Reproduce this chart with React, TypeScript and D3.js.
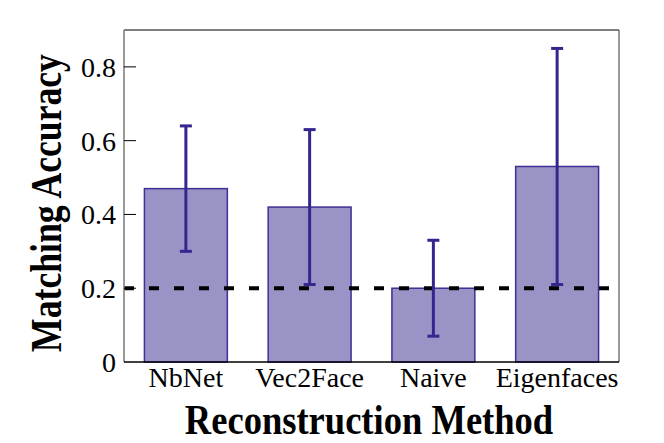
import React from "react";
import * as d3 from "d3";

const categories = ["NbNet", "Vec2Face", "Naive", "Eigenfaces"];
const means = [0.47, 0.42, 0.2, 0.53];
const lowers = [0.3, 0.21, 0.07, 0.21];
const uppers = [0.64, 0.63, 0.33, 0.85];
const yTicks = [0, 0.2, 0.4, 0.6, 0.8];
const yTickLabels = ["0", "0.2", "0.4", "0.6", "0.8"];
const chanceLevel = 0.2;

const W = 664;
const H = 443;
const left = 124;
const right = 619;
const top = 30;
const bottom = 362;

export default function App() {
  const x = d3.scaleBand<string>().domain(categories).range([left, right]).paddingInner(0.33).paddingOuter(0.165);
  const y = d3.scaleLinear().domain([0, 0.9]).range([bottom, top]);
  const serif = "'Liberation Serif', 'Times New Roman', serif";
  const errColor = "#33278f";
  return (
    <svg width={W} height={H} style={{ position: "absolute", left: 0, top: 0, background: "#fff" }}>
      {/* bars */}
      {categories.map((c, i) => (
        <rect
          key={c}
          x={x(c)!}
          y={y(means[i])}
          width={x.bandwidth()}
          height={y(0) - y(means[i])}
          fill="#9a93c5"
          stroke="#3c2f96"
          strokeWidth={1.5}
        />
      ))}
      {/* chance line */}
      <line
        x1={left}
        x2={right}
        y1={y(chanceLevel)}
        y2={y(chanceLevel)}
        stroke="#000"
        strokeWidth={4}
        strokeDasharray="10,15"
      />
      {/* error bars */}
      {categories.map((c, i) => {
        const cx = x(c)! + x.bandwidth() / 2;
        return (
          <g key={c} stroke={errColor} strokeWidth={3}>
            <line x1={cx} x2={cx} y1={y(lowers[i])} y2={y(uppers[i])} />
            <line x1={cx - 6} x2={cx + 6} y1={y(lowers[i])} y2={y(lowers[i])} />
            <line x1={cx - 6} x2={cx + 6} y1={y(uppers[i])} y2={y(uppers[i])} />
          </g>
        );
      })}
      {/* spines */}
      <line x1={left} x2={right} y1={top} y2={top} stroke="#000" strokeWidth={1} />
      <line x1={right} x2={right} y1={top} y2={bottom} stroke="#555" strokeWidth={1.2} />
      <line x1={left} x2={left} y1={top} y2={bottom} stroke="#808080" strokeWidth={1.6} />
      <line x1={left} x2={right} y1={bottom} y2={bottom} stroke="#000" strokeWidth={1.6} />
      {/* y ticks */}
      {yTicks.map((t, i) => (
        <g key={t}>
          {t > 0 && <line x1={left} x2={left + 12} y1={y(t)} y2={y(t)} stroke="#000" strokeWidth={1} />}
          <text
            x={116}
            y={y(t) + 10}
            textAnchor="end"
            fontFamily={serif}
            fontSize={28}
            fill="#000"
          >
            {yTickLabels[i]}
          </text>
        </g>
      ))}
      {/* x labels */}
      {categories.map((c) => (
        <text
          key={c}
          x={x(c)! + x.bandwidth() / 2}
          y={387}
          textAnchor="middle"
          fontFamily={serif}
          fontSize={28}
          fill="#000"
        >
          {c}
        </text>
      ))}
      {/* titles */}
      <text
        transform="translate(369,434) scale(0.85,1)"
        x={0}
        y={0}
        textAnchor="middle"
        fontFamily={serif}
        fontWeight="bold"
        fontSize={43}
        fill="#000"
      >
        Reconstruction Method
      </text>
      <text
        transform="translate(61,203) rotate(-90) scale(0.81,1)"
        x={0}
        y={0}
        textAnchor="middle"
        fontFamily={serif}
        fontWeight="bold"
        fontSize={44}
        fill="#000"
      >
        Matching Accuracy
      </text>
    </svg>
  );
}
